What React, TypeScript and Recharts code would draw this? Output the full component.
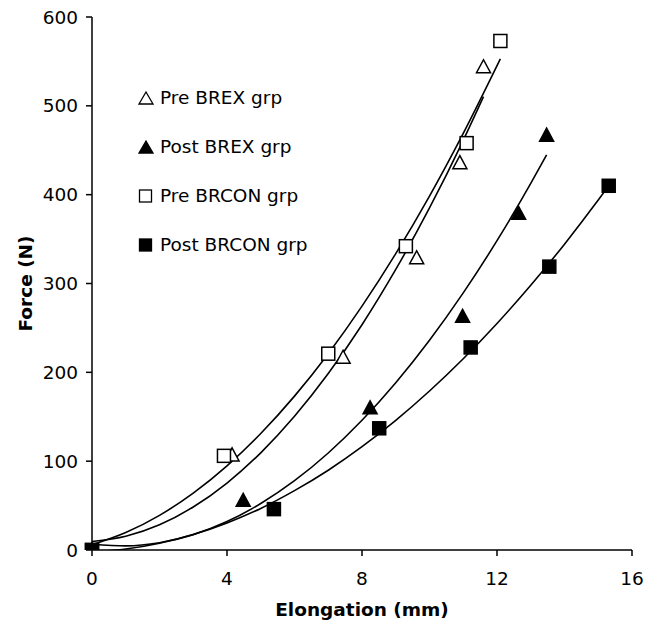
import React from 'react';
import { ScatterChart, Scatter, XAxis, YAxis, Legend } from 'recharts';

// measured points
const preBrexX = [0, 4.15, 7.44, 9.62, 10.9, 11.6];
const preBrexY = [0, 107, 217, 329, 436, 544];
const postBrexX = [0, 4.48, 8.24, 10.98, 12.64, 13.47];
const postBrexY = [0, 56, 160, 263, 379, 467];
const preBrconX = [0, 3.91, 7.0, 9.3, 11.1, 12.1];
const preBrconY = [0, 106, 221, 342, 458, 573];
const postBrconX = [0, 5.39, 8.51, 11.22, 13.55, 15.31];
const postBrconY = [0, 46, 137, 228, 319, 410];

// trendline values
const preBrexTrendX = [0, 1, 2, 3, 4, 5, 6, 7, 8, 9, 10, 11, 11.6];
const preBrexTrendY = [9.6, 15.5, 28.4, 48.4, 75.4, 109.4, 150.5, 198.6, 253.6, 315.8, 385, 461.2, 510.3];
const preBrconTrendX = [0, 1, 2, 3, 4, 5, 6, 7, 8, 9, 10, 11, 12.1];
const preBrconTrendY = [5.9, 19.6, 39, 64, 94.7, 131.1, 173.2, 221, 274.5, 333.6, 398.4, 469, 552.9];
const postBrexTrendX = [0, 1, 2, 3, 4, 5, 6, 7, 8, 9, 10, 11, 12, 13, 13.47];
const postBrexTrendY = [6.5, 4.6, 8.1, 17.3, 32, 52.3, 78, 109.2, 146, 188.3, 236.1, 289.4, 348.2, 412.6, 444.8];
const postBrconTrendX = [0, 1, 2, 3, 4, 5, 6, 7, 8, 9, 10, 11, 12, 13, 14, 15, 15.31];
const postBrconTrendY = [-2.1, 1.1, 7.6, 17.4, 30.5, 46.8, 66.8, 89.8, 116.3, 146, 179, 215.3, 255, 298, 344.3, 393.9, 409.9];

const xTicks = [0, 4, 8, 12, 16];
const yTicks = [0, 100, 200, 300, 400, 500, 600];

const legendLabels = ['Pre BREX grp', 'Post BREX grp', 'Pre BRCON grp', 'Post BRCON grp'];

const zip = (xs: number[], ys: number[]) => xs.map((x, i) => ({ x, y: ys[i] }));

const FONT = '"DejaVu Sans", Verdana, sans-serif';
const FS = 18.5;

const Triangle = (props: any) => {
  const { cx, cy, filled } = props;
  if (cx == null || cy == null) return <g />;
  return (
    <path
      d={`M${cx},${cy - 7} L${cx + 7},${cy + 6} L${cx - 7},${cy + 6} Z`}
      fill={filled ? '#000' : '#fff'}
      stroke="#000"
      strokeWidth={1.5}
    />
  );
};

const Square = (props: any) => {
  const { cx, cy, filled } = props;
  if (cx == null || cy == null) return <g />;
  return (
    <rect
      x={cx - 6.5}
      y={cy - 6.5}
      width={13}
      height={13}
      fill={filled ? '#000' : '#fff'}
      stroke="#000"
      strokeWidth={1.5}
    />
  );
};

const NoDot = () => <g />;

const LegendIcon = ({ i }: { i: number }) => {
  const filled = i % 2 === 1;
  return (
    <svg width={16} height={16} style={{ marginRight: 6 }}>
      {i < 2 ? (
        <path d="M8,2 L15,14 L1,14 Z" fill={filled ? '#000' : '#fff'} stroke="#000" strokeWidth={1.3} />
      ) : (
        <rect x={1.5} y={2} width={12} height={12} fill={filled ? '#000' : '#fff'} stroke="#000" strokeWidth={1.3} />
      )}
    </svg>
  );
};

const LegendContent = () => (
  <div style={{ fontFamily: FONT, fontSize: FS, color: '#000' }}>
    {legendLabels.map((label, i) => (
      <div key={label} style={{ display: 'flex', alignItems: 'center', height: 49 }}>
        <LegendIcon i={i} />
        <span>{label}</span>
      </div>
    ))}
  </div>
);

const trendLine = { stroke: '#000', strokeWidth: 1.6 };

export default function App() {
  return (
    <div style={{ position: 'absolute', left: 0, top: 0, width: 652, height: 625, background: '#fff' }}>
      <ScatterChart width={652} height={625} margin={{ top: 17, right: 20, bottom: 5, left: 32 }}>
        <XAxis
          type="number"
          dataKey="x"
          domain={[0, 16]}
          ticks={xTicks}
          height={70}
          stroke="#000"
          strokeWidth={1.5}
          tickSize={6}
          tickMargin={16}
          tick={{ fill: '#000', fontSize: FS, fontFamily: FONT }}
          label={{ value: 'Elongation (mm)', position: 'insideBottom', offset: 4, style: { fontFamily: FONT, fontSize: FS, fontWeight: 'bold', fill: '#000' } }}
        />
        <YAxis
          type="number"
          dataKey="y"
          domain={[0, 600]}
          ticks={yTicks}
          allowDataOverflow
          width={60}
          stroke="#000"
          strokeWidth={1.5}
          tickSize={6}
          tickMargin={8}
          tick={{ fill: '#000', fontSize: FS, fontFamily: FONT }}
          label={{ value: 'Force (N)', angle: -90, position: 'insideLeft', offset: -7, style: { textAnchor: 'middle', fontFamily: FONT, fontSize: FS, fontWeight: 'bold', fill: '#000' } }}
        />
        <Legend
          layout="horizontal"
          verticalAlign="middle"
          align="center"
          content={<LegendContent />}
          wrapperStyle={{ position: 'absolute', left: 138, top: 73, width: 240 }}
        />
        <Scatter data={zip(preBrexTrendX, preBrexTrendY)} line={trendLine} lineJointType="monotoneX" shape={<NoDot />} legendType="none" isAnimationActive={false} />
        <Scatter data={zip(preBrconTrendX, preBrconTrendY)} line={trendLine} lineJointType="monotoneX" shape={<NoDot />} legendType="none" isAnimationActive={false} />
        <Scatter data={zip(postBrexTrendX, postBrexTrendY)} line={trendLine} lineJointType="monotoneX" shape={<NoDot />} legendType="none" isAnimationActive={false} />
        <Scatter data={zip(postBrconTrendX, postBrconTrendY)} line={trendLine} lineJointType="monotoneX" shape={<NoDot />} legendType="none" isAnimationActive={false} />
        <Scatter name="Pre BREX grp" data={zip(preBrexX, preBrexY)} shape={<Triangle filled={false} />} isAnimationActive={false} />
        <Scatter name="Post BREX grp" data={zip(postBrexX, postBrexY)} shape={<Triangle filled />} isAnimationActive={false} />
        <Scatter name="Pre BRCON grp" data={zip(preBrconX, preBrconY)} shape={<Square filled={false} />} isAnimationActive={false} />
        <Scatter name="Post BRCON grp" data={zip(postBrconX, postBrconY)} shape={<Square filled />} isAnimationActive={false} />
      </ScatterChart>
    </div>
  );
}
